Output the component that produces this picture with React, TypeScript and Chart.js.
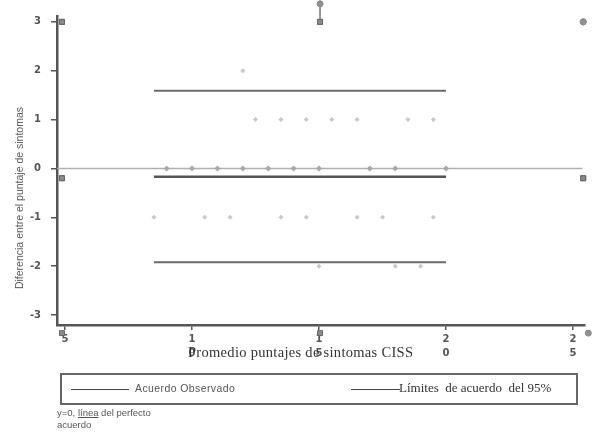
import React, { useEffect, useRef } from "react";
import { Chart, registerables } from "chart.js";

Chart.register(...registerables);

// Bland-Altman data (mean of scores, difference)
const diffZeroX = [9, 10, 11, 12, 13, 14, 15, 17, 18, 20];
const diffPlusOneX = [12.5, 13.5, 14.5, 15.5, 16.5, 18.5, 19.5];
const diffPlusTwoX = [12];
const diffMinusOneX = [8.5, 10.5, 11.5, 13.5, 14.5, 16.5, 17.5, 19.5];
const diffMinusTwoX = [15, 18, 19];

const meanDiff = -0.17;
const upperLimit = 1.59;
const lowerLimit = -1.92;
const lineStartX = 8.5;
const lineEndX = 20;

// corner marks from the scanned figure
const squareMarks = [
  { x: 4.88, y: 3 },
  { x: 4.88, y: -0.2 },
  { x: 4.88, y: -3.37 },
  { x: 15.04, y: 3 },
  { x: 15.04, y: -3.37 },
  { x: 25.4, y: -0.2 },
];
const roundMarks = [
  { x: 25.4, y: 3 },
  { x: 25.6, y: -3.37 },
  { x: 15.04, y: 3.37 },
];

const xTicks = [5, 10, 15, 20, 25];
const yTicks = [-3, -2, -1, 0, 1, 2, 3];
const xMin = 4.685;
const xMax = 25.47;
const yMin = -3.204;
const yMax = 3.12;

const pts = (xs: number[], y: number) => xs.map((x) => ({ x, y }));

// draws the elements of datasets flagged "drawOutside" even when they lie beyond the chart area
const outsidePlugin = {
  id: "outsideMarks",
  afterDatasetsDraw(chart: any) {
    const ctx = chart.ctx;
    const full = { left: -50, top: -50, right: chart.width + 50, bottom: chart.height + 50 };
    chart.data.datasets.forEach((ds: any, i: number) => {
      if (!ds.drawOutside) return;
      const meta = chart.getDatasetMeta(i);
      ctx.save();
      meta.data.forEach((el: any) => el.draw(ctx, full));
      ctx.restore();
    });
  },
};

export default function App() {
  const ref = useRef<HTMLCanvasElement | null>(null);

  useEffect(() => {
    if (!ref.current) return;
    const hline = (y: number, x0: number, x1: number, color: string, w: number) => ({
      data: [
        { x: x0, y },
        { x: x1, y },
      ],
      showLine: true,
      borderColor: color,
      borderWidth: w,
      pointRadius: 0,
      clip: false as any,
    });
    const chart = new Chart(ref.current, {
      type: "scatter",
      plugins: [outsidePlugin],
      data: {
        datasets: [
          hline(upperLimit, lineStartX, lineEndX, "#6a6a6a", 2) as any,
          hline(meanDiff, lineStartX, lineEndX, "#555555", 2.5) as any,
          hline(lowerLimit, lineStartX, lineEndX, "#6a6a6a", 2) as any,
          {
            data: [
              { x: 15.04, y: 3.37 },
              { x: 15.04, y: 3 },
            ],
            showLine: true,
            borderColor: "#888",
            borderWidth: 1,
            pointRadius: 0,
            clip: false,
          } as any,
          {
            data: squareMarks,
            drawOutside: true,
            pointStyle: "rect",
            pointRadius: 3.5,
            backgroundColor: "#8a8a8a",
            borderColor: "#666",
            borderWidth: 1,
            clip: false,
          } as any,
          {
            data: roundMarks,
            drawOutside: true,
            pointStyle: "circle",
            pointRadius: 3,
            backgroundColor: "#909090",
            borderColor: "#888",
            borderWidth: 1,
            clip: false,
          } as any,
          {
            data: pts(diffZeroX, 0),
            pointStyle: "rectRot",
            pointRadius: 3,
            backgroundColor: "#a8a8a8",
            borderColor: "#a8a8a8",
            borderWidth: 0,
          },
          {
            data: [
              ...pts(diffPlusOneX, 1),
              ...pts(diffPlusTwoX, 2),
              ...pts(diffMinusOneX, -1),
              ...pts(diffMinusTwoX, -2),
            ],
            pointStyle: "rectRot",
            pointRadius: 2.5,
            backgroundColor: "#c8c8c8",
            borderColor: "#c8c8c8",
            borderWidth: 0,
          },
          hline(0, xMin, xMax - 0.1, "#b0b0b0", 1.5) as any,
        ],
      },
      options: {
        animation: false,
        responsive: false,
        maintainAspectRatio: false,
        layout: { padding: { top: 15, right: 9, left: 0, bottom: 0 } },
        plugins: { legend: { display: false }, tooltip: { enabled: false } },
        scales: {
          x: {
            type: "linear",
            min: xMin,
            max: xMax,
            afterBuildTicks: (s: any) => {
              s.ticks = xTicks.map((v) => ({ value: v }));
            },
            afterFit: (s: any) => {
              s.height = 115;
            },
            border: { color: "#555", width: 2.5 },
            grid: { drawOnChartArea: false, color: "#555", tickLength: 5, lineWidth: 1.5 },
            ticks: {
              autoSkip: false,
              maxRotation: 0,
              padding: 3,
              color: "#555",
              font: { family: "DejaVu Sans", size: 10, weight: "bold", lineHeight: 1.35 },
              callback: (v: any) => (Number(v) >= 10 ? String(v).split("") : String(v)),
            },
          },
          y: {
            type: "linear",
            min: yMin,
            max: yMax,
            afterBuildTicks: (s: any) => {
              s.ticks = yTicks.map((v) => ({ value: v }));
            },
            afterFit: (s: any) => {
              s.width = 57;
            },
            border: { color: "#555", width: 2.5 },
            grid: { drawOnChartArea: false, color: "#555", tickLength: 6, lineWidth: 1.5 },
            ticks: {
              autoSkip: false,
              padding: 10,
              color: "#555",
              font: { family: "DejaVu Sans", size: 10, weight: "bold" },
              callback: (v: any) => String(v),
            },
          },
        },
      },
    });
    return () => chart.destroy();
  }, []);

  return (
    <div
      style={{
        position: "absolute",
        left: 0,
        top: 0,
        width: 594,
        height: 440,
        background: "#fff",
        overflow: "hidden",
      }}
    >
      <canvas ref={ref} width={594} height={440} style={{ position: "absolute", left: 0, top: 0 }} />
      <div
        style={{
          position: "absolute",
          left: 19 - 130,
          top: 198 - 6,
          width: 260,
          height: 12,
          lineHeight: "12px",
          textAlign: "center",
          transform: "rotate(-90deg)",
          font: "10.5px 'Liberation Sans', Arial, sans-serif",
          color: "#555",
          whiteSpace: "nowrap",
        }}
      >
        Diferencia entre el puntaje de sintomas
      </div>
      <div
        style={{
          position: "absolute",
          left: 188,
          top: 344,
          font: "14.5px 'Liberation Serif', 'Times New Roman', serif",
          letterSpacing: "0.3px",
          color: "#333",
          whiteSpace: "nowrap",
        }}
      >
        Promedio puntajes de sintomas CISS
      </div>
      <div
        style={{
          position: "absolute",
          left: 60,
          top: 373,
          width: 514,
          height: 28,
          border: "2px solid #666",
        }}
      >
        <div style={{ position: "absolute", left: 9, top: 14, width: 58, height: 0, borderTop: "1px solid #444" }} />
        <div
          style={{
            position: "absolute",
            left: 73,
            top: 7,
            font: "10.5px 'Liberation Sans', Arial, sans-serif",
            letterSpacing: "0.4px",
            color: "#555",
            whiteSpace: "nowrap",
          }}
        >
          Acuerdo Observado
        </div>
        <div style={{ position: "absolute", left: 289, top: 14, width: 49, height: 0, borderTop: "1px solid #444" }} />
        <div
          style={{
            position: "absolute",
            left: 337,
            top: 5,
            font: "13px 'Liberation Serif', 'Times New Roman', serif",
            color: "#333",
            whiteSpace: "nowrap",
          }}
        >
          Límites&nbsp; de acuerdo&nbsp; del 95%
        </div>
      </div>
      <div
        style={{
          position: "absolute",
          left: 57,
          top: 407,
          font: "9.5px 'Liberation Sans', Arial, sans-serif",
          color: "#555",
          lineHeight: "12px",
          whiteSpace: "nowrap",
        }}
      >
        y=0, <span style={{ textDecoration: "underline" }}>línea</span> del perfecto
        <br />
        acuerdo
      </div>
    </div>
  );
}
